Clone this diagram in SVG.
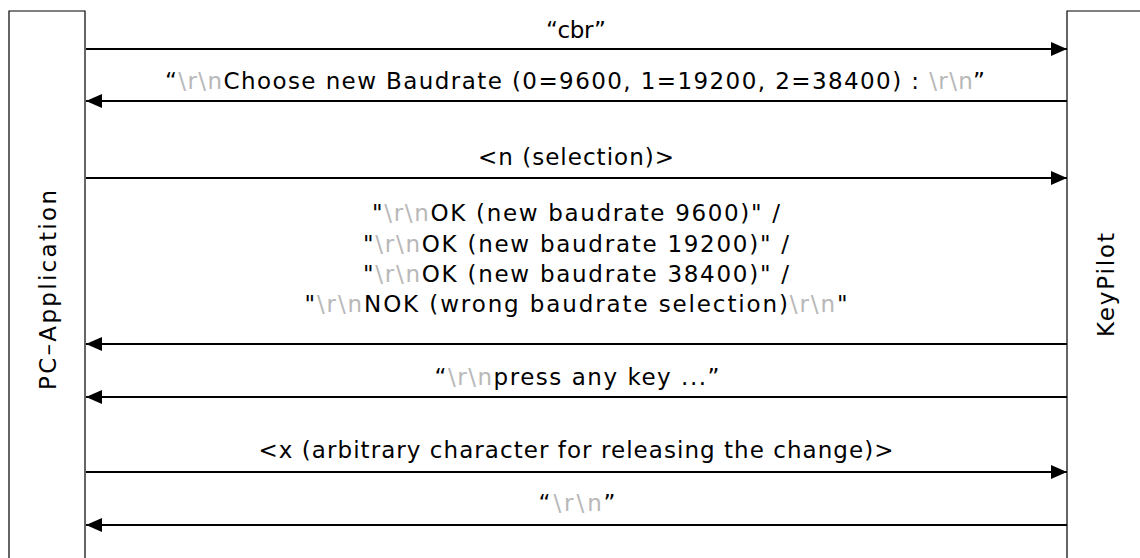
<svg xmlns="http://www.w3.org/2000/svg" width="1140" height="558" viewBox="0 0 1140 558">
<style>
text{font-family:"DejaVu Sans","Liberation Sans",sans-serif;font-size:23px;fill:#000;}
.g{fill:#b8b8b8;}
.lbl{text-anchor:middle;}
.box{fill:#fff;stroke:#000;stroke-width:1.2;}
.msg{stroke:#000;stroke-width:2;fill:none;}
</style>
<defs>
<marker id="ah" viewBox="0 0 16 14" refX="16" refY="7" markerWidth="16" markerHeight="14" markerUnits="userSpaceOnUse" orient="auto">
<path d="M0,0 L16,7 L0,14 Z" fill="#000"/>
</marker>
</defs>
<rect width="1140" height="558" fill="#fff"/>
<g id="pc-application">
<path class="box" d="M9,570 V11 H85 V570"/>
<text class="lbl" transform="translate(56,290) rotate(-90)" textLength="200" lengthAdjust="spacing">PC–Application</text>
</g>
<g id="keypilot">
<path class="box" d="M1150,11 H1067 V570"/>
<text class="lbl" transform="translate(1114,285) rotate(-90)" textLength="104" lengthAdjust="spacing">KeyPilot</text>
</g>
<g id="connectors">
<line class="msg" x1="86" y1="49" x2="1067" y2="49" marker-end="url(#ah)"/>
<line class="msg" x1="1067" y1="101" x2="86" y2="101" marker-end="url(#ah)"/>
<line class="msg" x1="86" y1="178" x2="1067" y2="178" marker-end="url(#ah)"/>
<line class="msg" x1="1067" y1="344" x2="86" y2="344" marker-end="url(#ah)"/>
<line class="msg" x1="1067" y1="397" x2="86" y2="397" marker-end="url(#ah)"/>
<line class="msg" x1="86" y1="472" x2="1067" y2="472" marker-end="url(#ah)"/>
<line class="msg" x1="1067" y1="525" x2="86" y2="525" marker-end="url(#ah)"/>
</g>
<g id="labels">
<text class="lbl" x="576" y="38" textLength="60" lengthAdjust="spacing">“cbr”</text>
<text class="lbl" x="575" y="89" textLength="820" lengthAdjust="spacing">“<tspan class="g">\r\n</tspan>Choose new Baudrate (0=9600, 1=19200, 2=38400) : <tspan class="g">\r\n</tspan>”</text>
<text class="lbl" x="576" y="165" textLength="196" lengthAdjust="spacing">&lt;n (selection)&gt;</text>
<text class="lbl" x="576" y="221" textLength="408" lengthAdjust="spacing">"<tspan class="g">\r\n</tspan>OK (new baudrate 9600)" /</text>
<text class="lbl" x="576" y="252" textLength="426" lengthAdjust="spacing">"<tspan class="g">\r\n</tspan>OK (new baudrate 19200)" /</text>
<text class="lbl" x="576" y="282" textLength="426" lengthAdjust="spacing">"<tspan class="g">\r\n</tspan>OK (new baudrate 38400)" /</text>
<text class="lbl" x="576" y="312" textLength="543" lengthAdjust="spacing">"<tspan class="g">\r\n</tspan>NOK (wrong baudrate selection)<tspan class="g">\r\n</tspan>"</text>
<text class="lbl" x="577" y="385" textLength="285" lengthAdjust="spacing">“<tspan class="g">\r\n</tspan>press any key ...”</text>
<text class="lbl" x="576" y="458" textLength="635" lengthAdjust="spacing">&lt;x (arbitrary character for releasing the change)&gt;</text>
<text class="lbl" x="577" y="511" textLength="77" lengthAdjust="spacing">“<tspan class="g">\r\n</tspan>”</text>
</g>
</svg>
